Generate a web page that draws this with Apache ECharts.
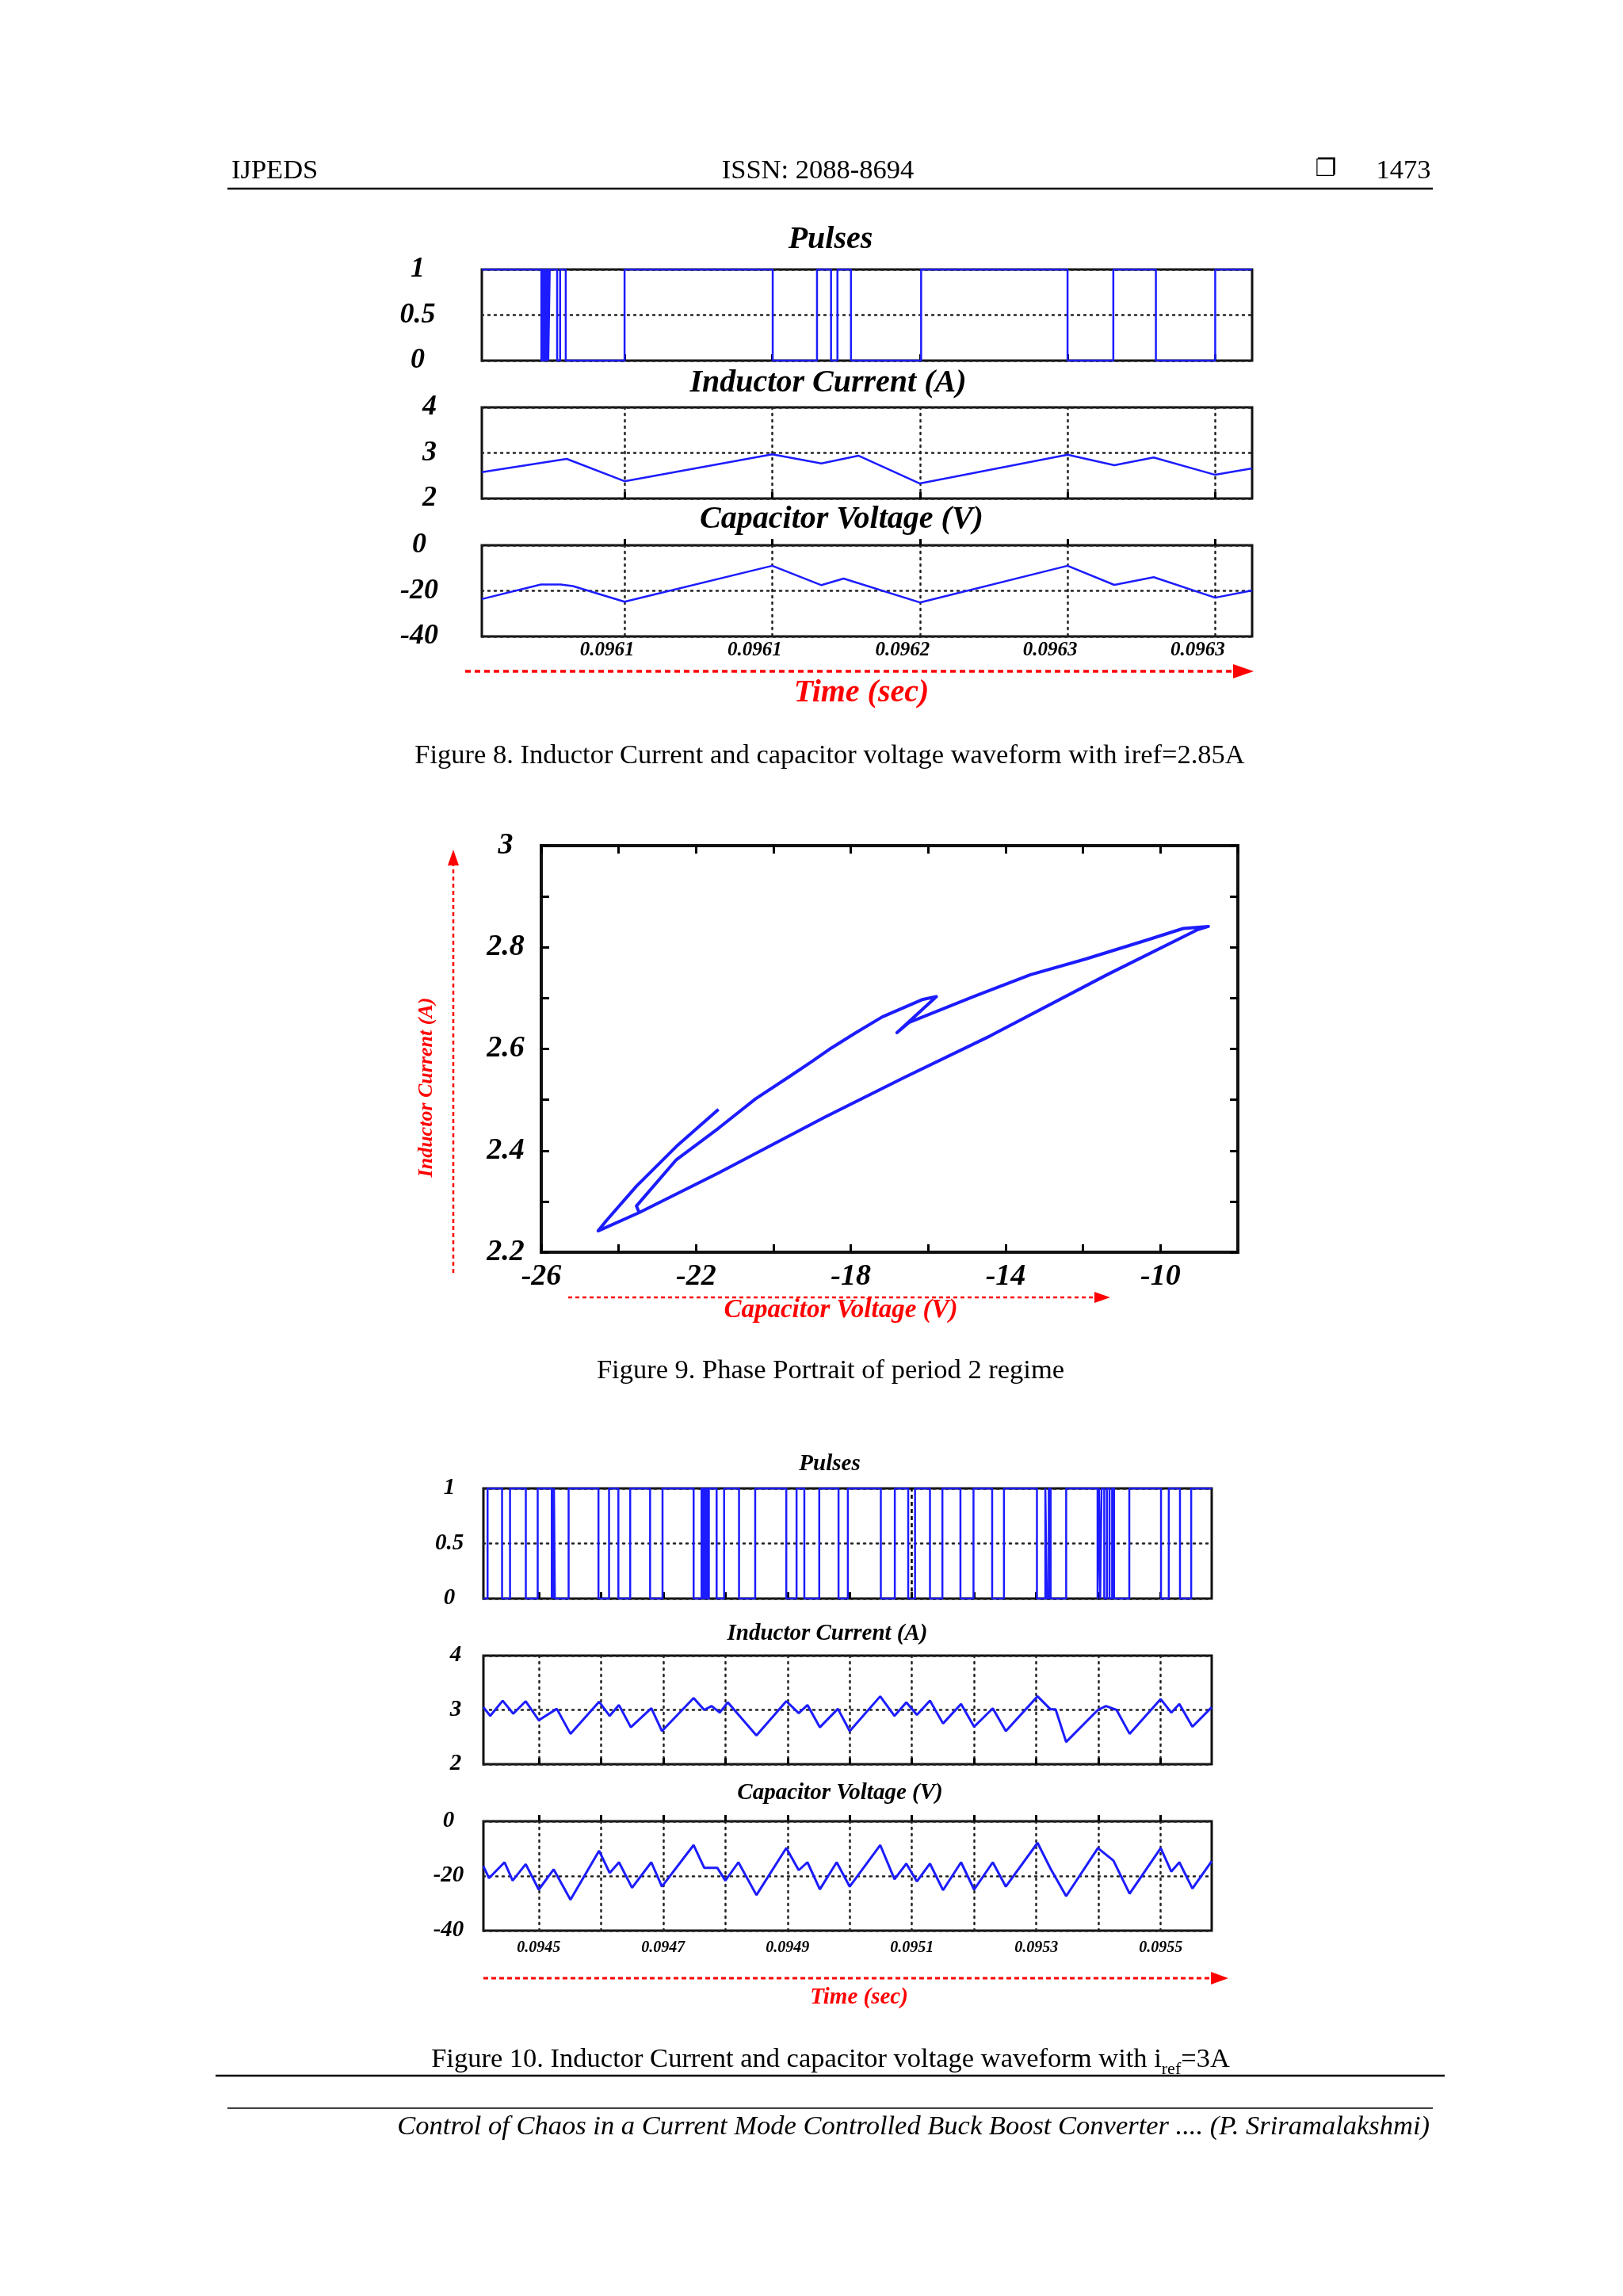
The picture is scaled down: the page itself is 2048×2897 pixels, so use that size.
<!DOCTYPE html>
<html><head><meta charset="utf-8">
<script src="https://cdn.jsdelivr.net/npm/echarts@6/dist/echarts.min.js"></script>
<style>html,body{margin:0;padding:0;background:#fff}#c{width:2048px;height:2897px}</style>
</head><body><div id="c"></div>
<script>
// ---------- Figure 8 (time in microseconds) ----------
const fig8TickTimes = [96080, 96140, 96200, 96260, 96320];
const fig8TickLabels = ['0.0961', '0.0961', '0.0962', '0.0963', '0.0963'];
const fig8PulseEdges = [96046.2, 96046.9, 96047.6, 96048.3, 96049.0, 96049.6, 96052.6, 96053.8, 96056.1,
  96080, 96140.2, 96158.2, 96163.9, 96166.5, 96172, 96200.5, 96260, 96278.6, 96295.9, 96320];
const fig8PulseStart = 1;
const fig8CurrentTime = [96022, 96056.5, 96080, 96140, 96160, 96175, 96200, 96260, 96279, 96295, 96320, 96335];
const fig8Current = [2.58, 2.87, 2.38, 2.97, 2.77, 2.94, 2.33, 2.96, 2.73, 2.90, 2.52, 2.66];
const fig8VoltTime = [96022, 96046, 96054, 96059, 96080, 96140, 96160, 96169, 96200, 96260, 96279, 96295, 96320, 96335];
const fig8Voltage = [-23.6, -17.2, -17.2, -17.9, -24.8, -9.0, -17.5, -14.6, -25.1, -9.0, -17.4, -14.0, -23.0, -19.8];

// ---------- Figure 9 (phase portrait) ----------
const fig9XLabels = ['-26', '-22', '-18', '-14', '-10'];
const fig9YLabels = ['2.2', '2.4', '2.6', '2.8', '3'];
const fig9Voltage = [-21.42, -22.51, -23.54, -24.32, -24.53, -23.47, -21.42, -18.69, -16.64, -14.39, -11.38, -9.06, -8.76,
  -9.41, -10.36, -11.93, -13.36, -14.80, -16.50, -16.81, -15.79, -16.16, -17.19, -17.87, -18.50, -19.03, -19.60,
  -20.46, -21.42, -22.51, -23.54, -23.47];
const fig9Current = [2.481, 2.408, 2.330, 2.262, 2.242, 2.278, 2.356, 2.465, 2.543, 2.626, 2.746, 2.834, 2.841,
  2.837, 2.814, 2.777, 2.746, 2.704, 2.652, 2.632, 2.703, 2.697, 2.663, 2.632, 2.602, 2.574, 2.545,
  2.502, 2.444, 2.382, 2.291, 2.278];

// ---------- Figure 10 (time in microseconds) ----------
const fig10TickTimes = [94500, 94600, 94700, 94800, 94900, 95000, 95100, 95200, 95300, 95400, 95500];
const fig10LabelTimes = [94500, 94700, 94900, 95100, 95300, 95500];
const fig10TickLabels = ['0.0945', '0.0947', '0.0949', '0.0951', '0.0953', '0.0955'];
const fig10PulseEdges = [94417.7, 94441, 94453.8, 94479.2, 94498.3, 94520.9, 94522.1, 94523.3, 94524.5, 94525.9,
  94548, 94596, 94613, 94628, 94647, 94679, 94699, 94749, 94761.7, 94764.6, 94767.6, 94770.6, 94773.5,
  94786, 94798, 94822, 94848, 94898, 94914.5, 94927, 94951, 94982, 94997, 95050, 95072.5, 95094, 95105,
  95129, 95149, 95178, 95199, 95229, 95248, 95301, 95314.5, 95317, 95320, 95323, 95348, 95398.5, 95400.7,
  95402.8, 95404.9, 95409.2, 95413.5, 95417.7, 95421.9, 95425, 95449.5, 95500.5, 95513, 95531, 95549];
const fig10PulseStart = 0;
const fig10CurrentTime = [94411, 94422, 94442, 94459, 94479, 94500, 94529, 94551, 94597, 94614, 94629, 94648, 94681,
  94698, 94749, 94766, 94778, 94791, 94804, 94850, 94898, 94918, 94932, 94952, 94981, 95000, 95049, 95072,
  95091, 95108, 95129, 95150, 95179, 95200, 95230, 95251, 95302, 95323, 95331, 95348, 95399, 95412, 95429,
  95450, 95500, 95517, 95530, 95551, 95582];
const fig10Current = [3.05, 2.89, 3.17, 2.93, 3.16, 2.81, 3.02, 2.56, 3.15, 2.89, 3.09, 2.68, 3.03,
  2.61, 3.22, 3.00, 3.07, 2.95, 3.14, 2.53, 3.16, 2.94, 3.09, 2.68, 3.02, 2.61, 3.25, 2.89,
  3.14, 2.91, 3.17, 2.75, 3.11, 2.69, 3.03, 2.61, 3.25, 3.01, 3.01, 2.41, 3.00, 3.07, 3.00,
  2.56, 3.20, 2.95, 3.11, 2.69, 3.05];
const fig10VoltTime = [94411, 94420, 94445, 94458, 94479, 94500, 94524, 94551, 94597, 94614, 94629, 94650, 94681,
  94698, 94749, 94766, 94787, 94800, 94821, 94850, 94898, 94918, 94932, 94952, 94979, 95000, 95049, 95072,
  95091, 95108, 95129, 95150, 95179, 95200, 95230, 95251, 95302, 95323, 95348, 95399, 95424, 95450, 95500,
  95517, 95530, 95551, 95582];
const fig10Voltage = [-16.5, -20.8, -15.0, -21.7, -15.7, -25.0, -17.6, -28.7, -10.8, -18.9, -15.0, -24.3, -15.0,
  -23.9, -8.7, -17.0, -17.0, -21.7, -15.0, -27.0, -9.8, -17.9, -15.0, -24.9, -15.0, -23.9, -8.7, -21.2,
  -15.5, -22.0, -15.5, -25.2, -15.0, -25.0, -15.0, -23.9, -7.9, -17.4, -27.4, -9.8, -14.4, -26.5, -9.8,
  -18.4, -15.0, -24.6, -14.6];

// ---------- helpers ----------
const FONT = '"Liberation Serif", "Times New Roman", serif';
const BLUE = '#1c1cff';
const RED = '#ff0000';
const zip = (a, b) => a.map((v, i) => [v, b[i]]);
function stepData(edges, start, tMin, tMax) {
  const pts = [[tMin, start]];
  let lvl = start;
  edges.forEach(t => { lvl = 1 - lvl; pts.push([t, lvl]); });
  pts.push([tMax, lvl]);
  return pts;
}
function lookup(times, labels) {
  return v => { const i = times.findIndex(t => Math.abs(t - v) < 0.5); return i >= 0 ? labels[i] : ''; };
}
const BI = size => ({ fontFamily: FONT, fontStyle: 'italic', fontWeight: 'bold', fontSize: size, color: '#000' });
const dotted = { show: true, lineStyle: { type: [2, 6], color: '#222', width: 2.5, cap: 'round' } };

const F8 = { min: 96022, max: 96335 };
const F10 = { min: 94411, max: 95582 };

function timeAxis(grid, lim, ticks, split, label) {
  return {
    gridIndex: grid, type: 'value', min: lim.min, max: lim.max,
    axisLine: { show: false },
    axisTick: { show: true, inside: true, length: 8, customValues: ticks, lineStyle: { color: '#000', width: 3 } },
    splitLine: split ? dotted : { show: false },
    axisLabel: label || { show: false }
  };
}
function levelAxis(grid, min, max, interval, size, margin, extra) {
  return {
    gridIndex: grid, type: 'value', min, max, interval,
    axisLine: { show: false }, axisTick: { show: false },
    splitLine: dotted,
    axisLabel: Object.assign({ ...BI(size), align: 'center', margin }, extra || {})
  };
}
const gridStyle = { show: true, borderColor: '#111', borderWidth: 3, backgroundColor: 'transparent' };

const option = {
  animation: false,
  backgroundColor: '#ffffff',
  grid: [
    { ...gridStyle, left: 608, top: 340, width: 972, height: 115 },
    { ...gridStyle, left: 608, top: 514, width: 972, height: 115 },
    { ...gridStyle, left: 608, top: 688, width: 972, height: 115 },
    { ...gridStyle, borderWidth: 4, left: 683, top: 1067, width: 879, height: 513 },
    { ...gridStyle, left: 610, top: 1878, width: 919, height: 139 },
    { ...gridStyle, left: 610, top: 2089, width: 919, height: 137 },
    { ...gridStyle, left: 610, top: 2298, width: 919, height: 138 }
  ],
  xAxis: [
    timeAxis(0, F8, fig8TickTimes, false),
    timeAxis(1, F8, fig8TickTimes, true),
    timeAxis(2, F8, fig8TickTimes, true, {
      show: true, customValues: fig8TickTimes, formatter: lookup(fig8TickTimes, fig8TickLabels),
      ...BI(25), margin: 5, padding: [0, 44, 0, 0]
    }),
    {
      gridIndex: 3, type: 'value', min: -26, max: -8, interval: 2, position: 'bottom',
      axisLine: { show: false },
      axisTick: { show: true, inside: true, length: 10, lineStyle: { color: '#000', width: 3 } },
      splitLine: { show: false },
      axisLabel: { ...BI(38), margin: 12, showMinLabel: true, showMaxLabel: false,
        formatter: v => { const s = String(Math.round(v)); return fig9XLabels.includes(s) ? s : ''; } }
    },
    {
      gridIndex: 3, type: 'value', min: -26, max: -8, interval: 2, position: 'top',
      axisLine: { show: false },
      axisTick: { show: true, inside: true, length: 10, lineStyle: { color: '#000', width: 3 } },
      splitLine: { show: false }, axisLabel: { show: false }
    },
    timeAxis(4, F10, fig10TickTimes, false),
    timeAxis(5, F10, fig10TickTimes, true),
    timeAxis(6, F10, fig10TickTimes, true, {
      show: true, customValues: fig10LabelTimes, formatter: lookup(fig10LabelTimes, fig10TickLabels),
      ...BI(20), margin: 12
    })
  ],
  yAxis: [
    levelAxis(0, 0, 1, 0.5, 36, 81, { padding: [0, 0, 28, 0] }),
    levelAxis(1, 2, 4, 1, 36, 66),
    levelAxis(2, -40, 0, 20, 36, 79),
    {
      gridIndex: 3, type: 'value', min: 2.2, max: 3.0, interval: 0.1, position: 'left',
      axisLine: { show: false },
      axisTick: { show: true, inside: true, length: 10, lineStyle: { color: '#000', width: 3 } },
      splitLine: { show: false },
      axisLabel: { ...BI(38), align: 'center', margin: 45,
        formatter: v => { const s = String(+(+v).toFixed(1)); return fig9YLabels.includes(s) ? s : ''; } }
    },
    {
      gridIndex: 3, type: 'value', min: 2.2, max: 3.0, interval: 0.1, position: 'right',
      axisLine: { show: false },
      axisTick: { show: true, inside: true, length: 10, lineStyle: { color: '#000', width: 3 } },
      splitLine: { show: false }, axisLabel: { show: false }
    },
    levelAxis(4, 0, 1, 0.5, 29, 43),
    levelAxis(5, 2, 4, 1, 29, 35),
    levelAxis(6, -40, 0, 20, 29, 44)
  ],
  series: [
    { type: 'line', xAxisIndex: 0, yAxisIndex: 0, step: 'end', symbol: 'none',
      data: stepData(fig8PulseEdges, fig8PulseStart, F8.min, F8.max), lineStyle: { color: BLUE, width: 2.5 } },
    { type: 'line', xAxisIndex: 1, yAxisIndex: 1, symbol: 'none',
      data: zip(fig8CurrentTime, fig8Current), lineStyle: { color: BLUE, width: 2.5 } },
    { type: 'line', xAxisIndex: 2, yAxisIndex: 2, symbol: 'none',
      data: zip(fig8VoltTime, fig8Voltage), lineStyle: { color: BLUE, width: 2.5 } },
    { type: 'line', xAxisIndex: 3, yAxisIndex: 3, symbol: 'none',
      data: zip(fig9Voltage, fig9Current), lineStyle: { color: BLUE, width: 4, join: 'round' } },
    { type: 'line', xAxisIndex: 5, yAxisIndex: 5, step: 'end', symbol: 'none',
      data: stepData(fig10PulseEdges, fig10PulseStart, F10.min, F10.max), lineStyle: { color: BLUE, width: 2.5 },
      markLine: { symbol: 'none', silent: true, label: { show: false },
        lineStyle: { color: '#000', type: [5, 4], width: 2.5 }, data: [{ xAxis: fig10TickTimes[6] }] } },
    { type: 'line', xAxisIndex: 6, yAxisIndex: 6, symbol: 'none',
      data: zip(fig10CurrentTime, fig10Current), lineStyle: { color: BLUE, width: 3 } },
    { type: 'line', xAxisIndex: 7, yAxisIndex: 7, symbol: 'none',
      data: zip(fig10VoltTime, fig10Voltage), lineStyle: { color: BLUE, width: 3 } }
  ],
  graphic: []
};

// ---------- page text & decorations ----------
const G = option.graphic;
function txt(x, y, text, font, opts) {
  const o = opts || {};
  G.push({ type: 'text', x, y, rotation: o.rotation || 0, silent: true,
    style: { text, font, fill: o.fill || '#000', align: o.align || 'center', verticalAlign: 'middle',
      textAlign: o.align || 'center', textVerticalAlign: 'middle', rich: o.rich } });
}
function hline(x1, y1, x2, y2, w, color, dash) {
  G.push({ type: 'line', silent: true, shape: { x1, y1, x2, y2 },
    style: { stroke: color || '#000', lineWidth: w, lineDash: dash || null } });
}
function head(points, color) {
  G.push({ type: 'polygon', silent: true, shape: { points }, style: { fill: color } });
}
const N33 = '34.5px ' + FONT;
const title40 = 'italic bold 40px ' + FONT;
const title29 = 'italic bold 29px ' + FONT;

// header
txt(292, 216, 'IJPEDS', N33, { align: 'left' });
txt(1032, 216, 'ISSN: 2088-8694', N33);
txt(1673, 214, '\u2750', '30px "DejaVu Sans"');
txt(1771, 216, '1473', N33);
hline(287, 238, 1808, 238, 2.5);

// Figure 8
txt(1048, 303, 'Pulses', title40);
txt(1045, 484, 'Inductor Current (A)', title40);
txt(1062, 656, 'Capacitor Voltage (V)', title40);
hline(587, 847, 1556, 847, 3.5, RED, [7, 5]);
head([[1556, 838], [1582, 847], [1556, 856]], RED);
txt(1087, 875, 'Time (sec)', title40, { fill: RED });
txt(1047, 954, 'Figure 8. Inductor Current and capacitor voltage waveform with iref=2.85A', N33);

// Figure 9
txt(538, 1372, 'Inductor Current (A)', 'italic bold 26px ' + FONT, { fill: RED, rotation: Math.PI / 2 });
hline(572, 1606, 572, 1092, 2.5, RED, [5, 4]);
head([[565, 1092], [572, 1072], [579, 1092]], RED);
hline(717, 1637, 1381, 1637, 2.5, RED, [5, 4]);
head([[1381, 1630], [1401, 1637], [1381, 1644]], RED);
txt(1061, 1653, 'Capacitor Voltage (V)', 'italic bold 33px ' + FONT, { fill: RED });
txt(1048, 1730, 'Figure 9. Phase Portrait of period 2 regime', N33);

// Figure 10
txt(1047, 1848, 'Pulses', title29);
txt(1044, 2062, 'Inductor Current (A)', title29);
txt(1060, 2263, 'Capacitor Voltage (V)', title29);
hline(610, 2496, 1528, 2496, 3, RED, [6, 4]);
head([[1528, 2488], [1550, 2496], [1528, 2504]], RED);
txt(1084, 2521, 'Time (sec)', 'italic bold 29px ' + FONT, { fill: RED });
txt(1048, 2599, '{n|Figure 10. Inductor Current and capacitor voltage waveform with i}{s|ref}{n|=3A}', N33, {
  rich: {
    n: { fontFamily: FONT, fontSize: 34.5, lineHeight: 46, fill: '#000' },
    s: { fontFamily: FONT, fontSize: 22, lineHeight: 22, verticalAlign: 'bottom', fill: '#000' }
  }
});
hline(272, 2619, 1823, 2619, 2.5);
hline(287, 2660, 1808, 2660, 1.5);
txt(1804, 2684, 'Control of Chaos in a Current Mode Controlled Buck Boost Converter .... (P. Sriramalakshmi)',
  'italic 34.5px ' + FONT, { align: 'right' });

const chart = echarts.init(document.getElementById('c'), null, { renderer: 'canvas' });
chart.setOption(option);
</script></body></html>
